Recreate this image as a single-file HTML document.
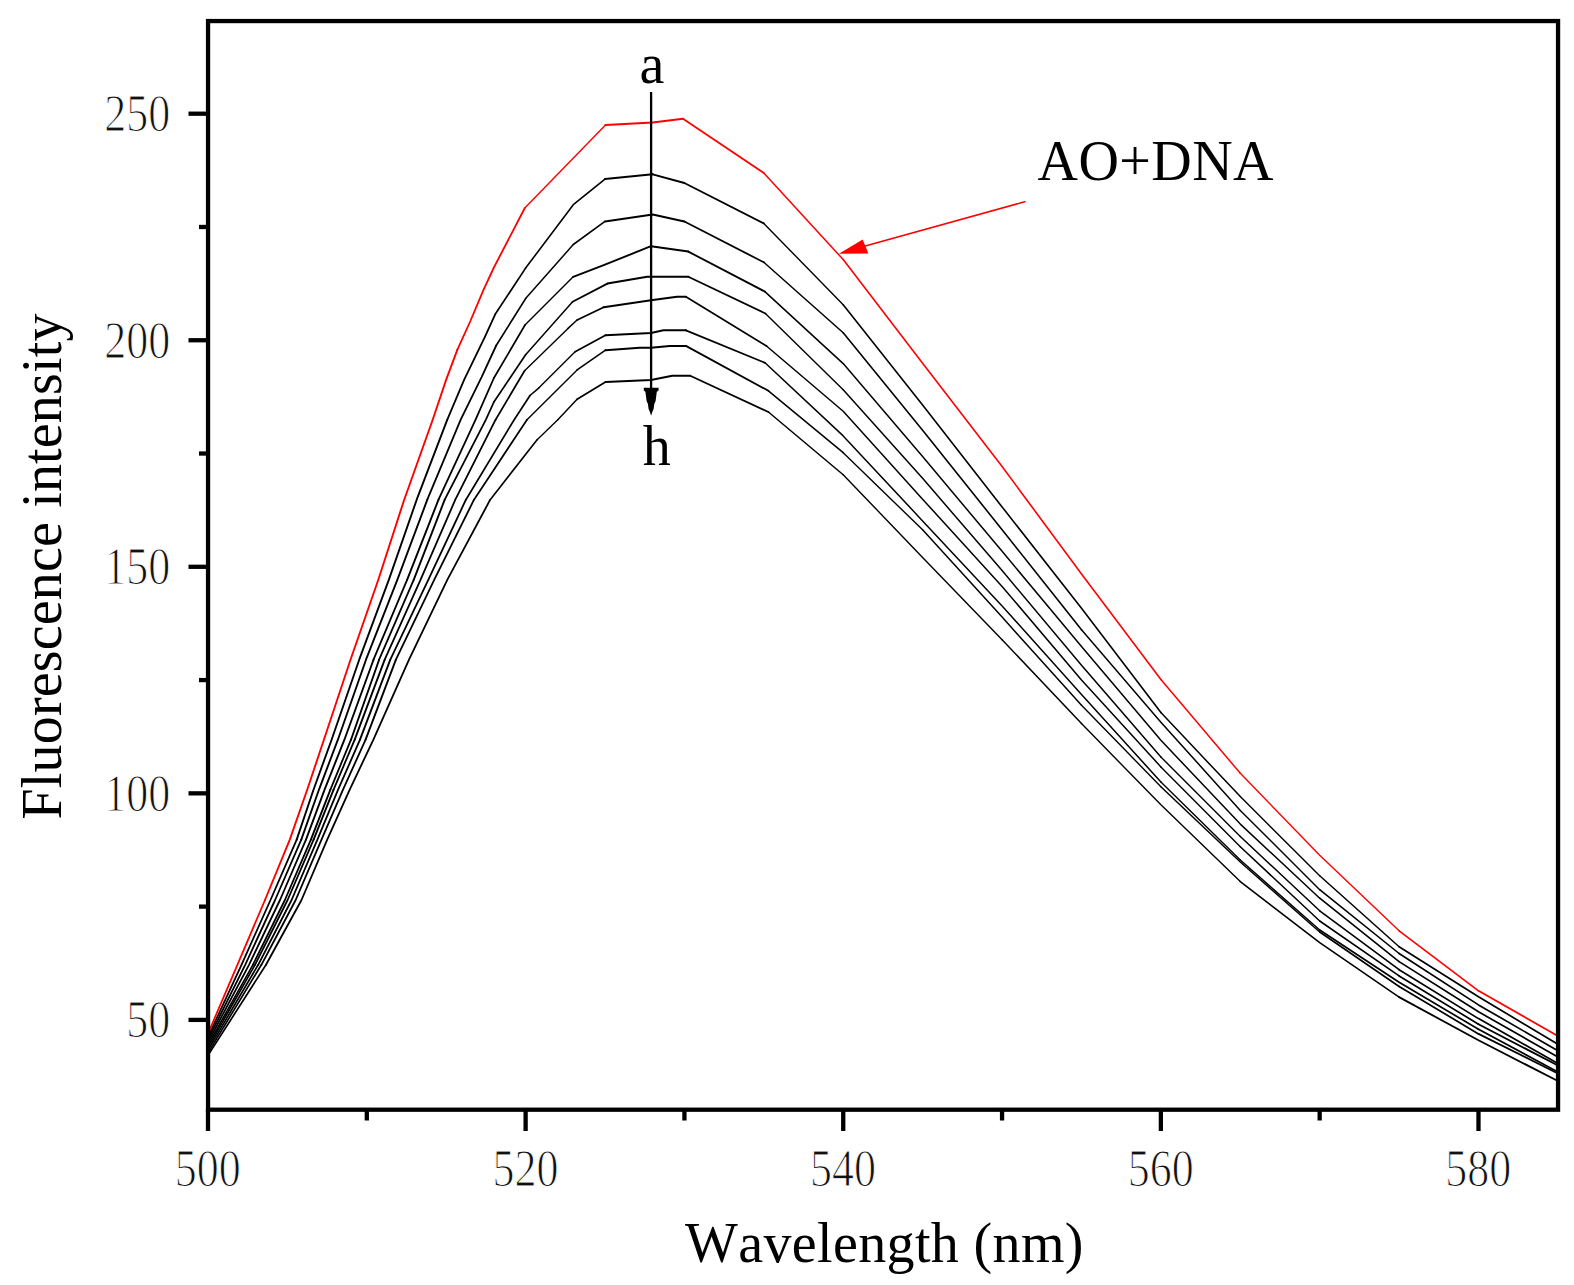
<!DOCTYPE html>
<html lang="en"><head><meta charset="utf-8"><title>Fluorescence intensity vs Wavelength (nm)</title>
<style>
html,body{margin:0;padding:0;background:#fff;}
body{width:1574px;height:1285px;overflow:hidden;}
svg{display:block;}
text{font-kerning:none;font-variant-ligatures:none;}
.t{font-family:"Liberation Serif","Times New Roman",serif;font-size:56px;fill:#000;}
.n{font-family:"Liberation Serif","Times New Roman",serif;font-size:52px;fill:#111;stroke:#fff;stroke-width:1.1px;}
</style></head><body>
<svg width="1574" height="1285" viewBox="0 0 1574 1285">
<rect x="0" y="0" width="1574" height="1285" fill="#fff"/>
<defs><clipPath id="c"><rect x="208.05" y="21.05" width="1350.00" height="1088.65"/></clipPath></defs>
<g clip-path="url(#c)" fill="none" stroke-linecap="round" stroke-linejoin="round" shape-rendering="auto">
<g stroke="#000">
<polyline stroke-width="1.7" points="208.0,1055.4 266.0,964.8"/>
<polyline stroke-width="1.8" points="266.0,964.8 301.5,900.0 327.2,839.6 349.6,789.8 373.4,739.7 409.0,659.7 447.4,579.7 490.2,499.7"/>
<polyline stroke-width="1.6" points="490.2,499.7 536.9,439.9"/>
<polyline stroke-width="1.4" points="536.9,439.9 557.8,419.7"/>
<polyline stroke-width="1.5" points="557.8,419.7 577.1,399.3"/>
<polyline stroke-width="1.7" points="577.1,399.3 605.5,382.0"/>
<polyline stroke-width="2.0" points="605.5,382.0 651.0,380.1 672.2,375.7 690.2,375.7"/>
<polyline stroke-width="1.8" points="690.2,375.7 768.4,412.0"/>
<polyline stroke-width="1.5" points="768.4,412.0 843.2,474.7"/>
<polyline stroke-width="1.4" points="843.2,474.7 922.6,557.5 1002.1,639.7"/>
<polyline stroke-width="1.5" points="1002.1,639.7 1081.5,723.6"/>
<polyline stroke-width="1.4" points="1081.5,723.6 1160.9,804.8 1240.3,881.6"/>
<polyline stroke-width="1.6" points="1240.3,881.6 1319.7,942.7 1399.1,997.1"/>
<polyline stroke-width="1.8" points="1399.1,997.1 1478.5,1040.3 1557.9,1081.0"/>
</g>
<g stroke="#000">
<polyline stroke-width="1.7" points="208.0,1052.8 261.4,964.8"/>
<polyline stroke-width="1.8" points="261.4,964.8 295.7,900.0 321.5,839.6 342.9,789.8 365.6,739.7"/>
<polyline stroke-width="1.9" points="365.6,739.7 395.9,659.7"/>
<polyline stroke-width="1.8" points="395.9,659.7 434.3,579.7 474.0,499.7"/>
<polyline stroke-width="1.7" points="474.0,499.7 527.0,419.7"/>
<polyline stroke-width="1.4" points="527.0,419.7 577.1,369.9"/>
<polyline stroke-width="1.6" points="577.1,369.9 605.5,350.2"/>
<polyline stroke-width="2.0" points="605.5,350.2 639.8,347.7 651.0,347.7 669.7,345.9 685.9,345.9"/>
<polyline stroke-width="1.8" points="685.9,345.9 768.4,390.8"/>
<polyline stroke-width="1.5" points="768.4,390.8 843.2,452.7"/>
<polyline stroke-width="1.4" points="843.2,452.7 922.6,529.8"/>
<polyline stroke-width="1.5" points="922.6,529.8 1002.1,617.1 1081.5,705.3"/>
<polyline stroke-width="1.4" points="1081.5,705.3 1160.9,786.7"/>
<polyline stroke-width="1.5" points="1160.9,786.7 1240.3,862.0 1319.7,932.0"/>
<polyline stroke-width="1.6" points="1319.7,932.0 1399.1,986.5"/>
<polyline stroke-width="1.7" points="1399.1,986.5 1478.5,1033.9"/>
<polyline stroke-width="1.8" points="1478.5,1033.9 1557.9,1073.5"/>
</g>
<g stroke="#000">
<polyline stroke-width="1.7" points="208.0,1050.1 258.2,964.8"/>
<polyline stroke-width="1.8" points="258.2,964.8 291.6,900.0 317.4,839.6 338.0,789.8 360.0,739.7"/>
<polyline stroke-width="1.9" points="360.0,739.7 390.3,659.7"/>
<polyline stroke-width="1.8" points="390.3,659.7 428.4,579.7 465.9,499.7"/>
<polyline stroke-width="1.7" points="465.9,499.7 514.2,419.7 530.0,395.5"/>
<polyline stroke-width="1.5" points="530.0,395.5 538.7,388.1"/>
<polyline stroke-width="1.4" points="538.7,388.1 575.1,351.7"/>
<polyline stroke-width="1.8" points="575.1,351.7 605.5,335.3"/>
<polyline stroke-width="2.0" points="605.5,335.3 651.0,333.1 663.4,330.3 685.9,330.3"/>
<polyline stroke-width="1.8" points="685.9,330.3 765.0,362.8"/>
<polyline stroke-width="1.5" points="765.0,362.8 843.2,435.9 922.6,520.9 1002.1,605.9 1081.5,694.5 1160.9,782.0"/>
<polyline stroke-width="1.4" points="1160.9,782.0 1240.3,860.0"/>
<polyline stroke-width="1.5" points="1240.3,860.0 1319.7,930.0"/>
<polyline stroke-width="1.7" points="1319.7,930.0 1399.1,982.2 1478.5,1029.3"/>
<polyline stroke-width="1.8" points="1478.5,1029.3 1557.9,1072.0"/>
</g>
<g stroke="#000">
<polyline stroke-width="1.7" points="208.0,1047.5 255.0,964.8"/>
<polyline stroke-width="1.8" points="255.0,964.8 287.6,900.0 313.6,839.6"/>
<polyline stroke-width="1.9" points="313.6,839.6 333.5,789.8"/>
<polyline stroke-width="1.8" points="333.5,789.8 354.7,739.7"/>
<polyline stroke-width="1.9" points="354.7,739.7 384.7,659.7"/>
<polyline stroke-width="1.8" points="384.7,659.7 420.6,579.7 455.3,499.7 495.6,419.7"/>
<polyline stroke-width="1.7" points="495.6,419.7 524.6,370.8"/>
<polyline stroke-width="1.4" points="524.6,370.8 568.0,328.4"/>
<polyline stroke-width="1.5" points="568.0,328.4 577.1,320.0"/>
<polyline stroke-width="1.8" points="577.1,320.0 603.7,307.2"/>
<polyline stroke-width="2.0" points="603.7,307.2 651.0,300.3 677.0,296.7 685.9,296.7"/>
<polyline stroke-width="1.7" points="685.9,296.7 766.5,346.0"/>
<polyline stroke-width="1.5" points="766.5,346.0 843.2,411.2 922.6,499.2 1002.1,586.4 1081.5,679.9 1160.9,766.9"/>
<polyline stroke-width="1.4" points="1160.9,766.9 1240.3,846.7"/>
<polyline stroke-width="1.5" points="1240.3,846.7 1319.7,921.0"/>
<polyline stroke-width="1.6" points="1319.7,921.0 1399.1,975.9"/>
<polyline stroke-width="1.7" points="1399.1,975.9 1478.5,1024.2"/>
<polyline stroke-width="1.8" points="1478.5,1024.2 1557.9,1065.5"/>
</g>
<g stroke="#000">
<polyline stroke-width="1.7" points="208.0,1044.9 252.9,964.8"/>
<polyline stroke-width="1.8" points="252.9,964.8 284.9,900.0 310.9,839.6"/>
<polyline stroke-width="1.9" points="310.9,839.6 330.3,789.8"/>
<polyline stroke-width="1.8" points="330.3,789.8 351.0,739.7"/>
<polyline stroke-width="1.9" points="351.0,739.7 379.1,659.7"/>
<polyline stroke-width="1.8" points="379.1,659.7 413.8,579.7"/>
<polyline stroke-width="1.9" points="413.8,579.7 444.7,499.7"/>
<polyline stroke-width="1.8" points="444.7,499.7 485.9,419.7 493.9,402.0"/>
<polyline stroke-width="1.7" points="493.9,402.0 525.6,354.7"/>
<polyline stroke-width="1.5" points="525.6,354.7 572.6,301.7"/>
<polyline stroke-width="1.8" points="572.6,301.7 607.4,283.6"/>
<polyline stroke-width="2.0" points="607.4,283.6 647.2,276.7 688.3,276.7"/>
<polyline stroke-width="1.8" points="688.3,276.7 765.4,313.5"/>
<polyline stroke-width="1.4" points="765.4,313.5 843.2,389.7"/>
<polyline stroke-width="1.5" points="843.2,389.7 922.6,478.3 1002.1,570.6 1081.5,665.3 1160.9,757.0"/>
<polyline stroke-width="1.4" points="1160.9,757.0 1240.3,836.5"/>
<polyline stroke-width="1.5" points="1240.3,836.5 1319.7,910.8"/>
<polyline stroke-width="1.6" points="1319.7,910.8 1399.1,969.7"/>
<polyline stroke-width="1.7" points="1399.1,969.7 1478.5,1018.6 1557.9,1063.5"/>
</g>
<g stroke="#000">
<polyline stroke-width="1.8" points="208.0,1042.3 249.0,964.8 280.0,900.0 306.0,839.6"/>
<polyline stroke-width="1.9" points="306.0,839.6 324.5,789.8 344.4,739.7 373.5,659.7"/>
<polyline stroke-width="1.8" points="373.5,659.7 407.2,579.7"/>
<polyline stroke-width="1.9" points="407.2,579.7 438.5,499.7"/>
<polyline stroke-width="1.8" points="438.5,499.7 475.6,419.7 493.9,378.0"/>
<polyline stroke-width="1.7" points="493.9,378.0 525.0,325.0"/>
<polyline stroke-width="1.4" points="525.0,325.0 573.2,276.8"/>
<polyline stroke-width="1.9" points="573.2,276.8 605.0,264.6 651.0,246.2"/>
<polyline stroke-width="2.0" points="651.0,246.2 688.3,251.6"/>
<polyline stroke-width="1.8" points="688.3,251.6 764.9,291.6"/>
<polyline stroke-width="1.5" points="764.9,291.6 843.2,363.6 922.6,456.6 1002.1,551.3 1081.5,646.6 1160.9,740.3 1240.3,824.1 1319.7,898.2"/>
<polyline stroke-width="1.6" points="1319.7,898.2 1399.1,961.6"/>
<polyline stroke-width="1.7" points="1399.1,961.6 1478.5,1011.8 1557.9,1057.0"/>
</g>
<g stroke="#000">
<polyline stroke-width="1.8" points="208.0,1039.6 245.2,964.8 275.1,900.0 301.3,839.6"/>
<polyline stroke-width="1.9" points="301.3,839.6 318.9,789.8 337.9,739.7 366.0,659.7 397.4,579.7 427.3,499.7"/>
<polyline stroke-width="1.8" points="427.3,499.7 460.7,419.7 481.6,377.1 496.2,345.5"/>
<polyline stroke-width="1.7" points="496.2,345.5 525.6,298.6"/>
<polyline stroke-width="1.5" points="525.6,298.6 573.3,244.5"/>
<polyline stroke-width="1.6" points="573.3,244.5 605.0,221.4"/>
<polyline stroke-width="2.0" points="605.0,221.4 652.7,214.6 684.4,221.5"/>
<polyline stroke-width="1.8" points="684.4,221.5 763.8,262.3"/>
<polyline stroke-width="1.5" points="763.8,262.3 843.2,332.8"/>
<polyline stroke-width="1.6" points="843.2,332.8 922.6,430.3 1002.1,529.7 1081.5,629.7"/>
<polyline stroke-width="1.5" points="1081.5,629.7 1160.9,722.2 1240.3,810.4"/>
<polyline stroke-width="1.4" points="1240.3,810.4 1319.7,889.7"/>
<polyline stroke-width="1.6" points="1319.7,889.7 1399.1,953.5"/>
<polyline stroke-width="1.7" points="1399.1,953.5 1478.5,1004.9 1557.9,1050.8"/>
</g>
<g stroke="#000">
<polyline stroke-width="1.8" points="208.0,1037.0 241.5,964.8 270.5,900.0 296.7,839.6"/>
<polyline stroke-width="1.9" points="296.7,839.6 313.5,789.8 331.6,739.7 359.2,659.7 388.9,579.7 416.7,499.7 447.3,419.7"/>
<polyline stroke-width="1.8" points="447.3,419.7 464.2,379.6 484.8,337.2 495.2,314.3"/>
<polyline stroke-width="1.7" points="495.2,314.3 525.6,268.1"/>
<polyline stroke-width="1.6" points="525.6,268.1 573.3,204.7 605.0,179.1"/>
<polyline stroke-width="2.0" points="605.0,179.1 652.7,174.3"/>
<polyline stroke-width="1.9" points="652.7,174.3 684.4,183.0"/>
<polyline stroke-width="1.8" points="684.4,183.0 763.8,223.4"/>
<polyline stroke-width="1.4" points="763.8,223.4 843.2,304.8"/>
<polyline stroke-width="1.6" points="843.2,304.8 922.6,405.1 1002.1,506.9 1081.5,608.2 1160.9,712.6"/>
<polyline stroke-width="1.5" points="1160.9,712.6 1240.3,796.6"/>
<polyline stroke-width="1.4" points="1240.3,796.6 1319.7,875.7"/>
<polyline stroke-width="1.5" points="1319.7,875.7 1399.1,946.7"/>
<polyline stroke-width="1.7" points="1399.1,946.7 1478.5,996.8 1557.9,1044.2"/>
</g>
<g stroke="#ff0000">
<polyline stroke-width="1.8" points="208.0,1033.7 237.4,964.8 265.0,900.0"/>
<polyline stroke-width="1.9" points="265.0,900.0 289.8,839.6 307.2,789.8 323.9,739.7 350.5,659.7 378.3,579.7 404.2,499.7 432.7,419.7 446.2,379.6 457.4,349.7"/>
<polyline stroke-width="1.8" points="457.4,349.7 470.4,321.0 483.5,289.9 493.9,267.5 524.8,208.0"/>
<polyline stroke-width="1.4" points="524.8,208.0 605.5,124.9"/>
<polyline stroke-width="2.0" points="605.5,124.9 652.7,122.5 683.0,118.7"/>
<polyline stroke-width="1.7" points="683.0,118.7 763.8,173.0"/>
<polyline stroke-width="1.5" points="763.8,173.0 843.2,259.6"/>
<polyline stroke-width="1.6" points="843.2,259.6 922.6,363.2 1002.1,466.5 1081.5,574.0 1160.9,679.5"/>
<polyline stroke-width="1.5" points="1160.9,679.5 1240.3,773.3"/>
<polyline stroke-width="1.4" points="1240.3,773.3 1319.7,855.2 1399.1,930.8"/>
<polyline stroke-width="1.6" points="1399.1,930.8 1478.5,990.8"/>
<polyline stroke-width="1.7" points="1478.5,990.8 1557.9,1036.0"/>
</g>
</g>
<line x1="651.1" y1="92" x2="651.1" y2="396" stroke="#000" stroke-width="2.3"/>
<polygon points="643.8,387.8 658.6,387.8 658.6,390.6 656.8,391.8 655.6,401 654.3,404 653.6,409 652.3,412 651.1,415.8 649.9,412 648.6,409 647.9,404 646.6,401 645.4,391.8 643.8,390.6" fill="#000"/>
<line x1="1025.5" y1="201.6" x2="858" y2="248" stroke="#ff0000" stroke-width="1.6"/>
<polygon points="838.9,253.8 862.7,239.6 868.4,253.5" fill="#ff0000"/>
<rect x="208.05" y="21.05" width="1350.00" height="1088.65" fill="none" stroke="#000" stroke-width="4.3"/>
<g stroke="#000" stroke-width="4.3">
<line x1="188.5" x2="208.05" y1="1019.90" y2="1019.90"/>
<line x1="188.5" x2="208.05" y1="793.35" y2="793.35"/>
<line x1="188.5" x2="208.05" y1="566.80" y2="566.80"/>
<line x1="188.5" x2="208.05" y1="340.25" y2="340.25"/>
<line x1="188.5" x2="208.05" y1="113.70" y2="113.70"/>
<line x1="199" x2="208.05" y1="906.62" y2="906.62"/>
<line x1="199" x2="208.05" y1="680.08" y2="680.08"/>
<line x1="199" x2="208.05" y1="453.52" y2="453.52"/>
<line x1="199" x2="208.05" y1="226.98" y2="226.98"/>
<line y1="1109.70" y2="1131" x1="208.00" x2="208.00"/>
<line y1="1109.70" y2="1131" x1="525.62" x2="525.62"/>
<line y1="1109.70" y2="1131" x1="843.24" x2="843.24"/>
<line y1="1109.70" y2="1131" x1="1160.86" x2="1160.86"/>
<line y1="1109.70" y2="1131" x1="1478.48" x2="1478.48"/>
<line y1="1109.70" y2="1120.5" x1="366.81" x2="366.81"/>
<line y1="1109.70" y2="1120.5" x1="684.43" x2="684.43"/>
<line y1="1109.70" y2="1120.5" x1="1002.05" x2="1002.05"/>
<line y1="1109.70" y2="1120.5" x1="1319.67" x2="1319.67"/>
</g>
<text class="n" text-anchor="end" transform="translate(170.3,1037.2) scale(0.846,1)">50</text>
<text class="n" text-anchor="end" transform="translate(170.3,810.6) scale(0.846,1)">100</text>
<text class="n" text-anchor="end" transform="translate(170.3,584.1) scale(0.846,1)">150</text>
<text class="n" text-anchor="end" transform="translate(170.3,357.6) scale(0.846,1)">200</text>
<text class="n" text-anchor="end" transform="translate(170.3,131.0) scale(0.846,1)">250</text>
<text class="n" text-anchor="middle" transform="translate(207.8,1185.5) scale(0.846,1)">500</text>
<text class="n" text-anchor="middle" transform="translate(525.4,1185.5) scale(0.846,1)">520</text>
<text class="n" text-anchor="middle" transform="translate(843.0,1185.5) scale(0.846,1)">540</text>
<text class="n" text-anchor="middle" transform="translate(1160.7,1185.5) scale(0.846,1)">560</text>
<text class="n" text-anchor="middle" transform="translate(1478.3,1185.5) scale(0.846,1)">580</text>
<text class="t" x="685" y="1261.5" textLength="398.5" lengthAdjust="spacing">Wavelength (nm)</text>
<text class="t" transform="translate(60.8,819.5) rotate(-90)" textLength="506" lengthAdjust="spacing">Fluorescence intensity</text>
<text class="t" x="1037.5" y="179.5" textLength="236" lengthAdjust="spacing">AO+DNA</text>
<text class="t" x="639.5" y="83.3">a</text>
<text class="t" x="642.8" y="464.6">h</text>
</svg></body></html>
